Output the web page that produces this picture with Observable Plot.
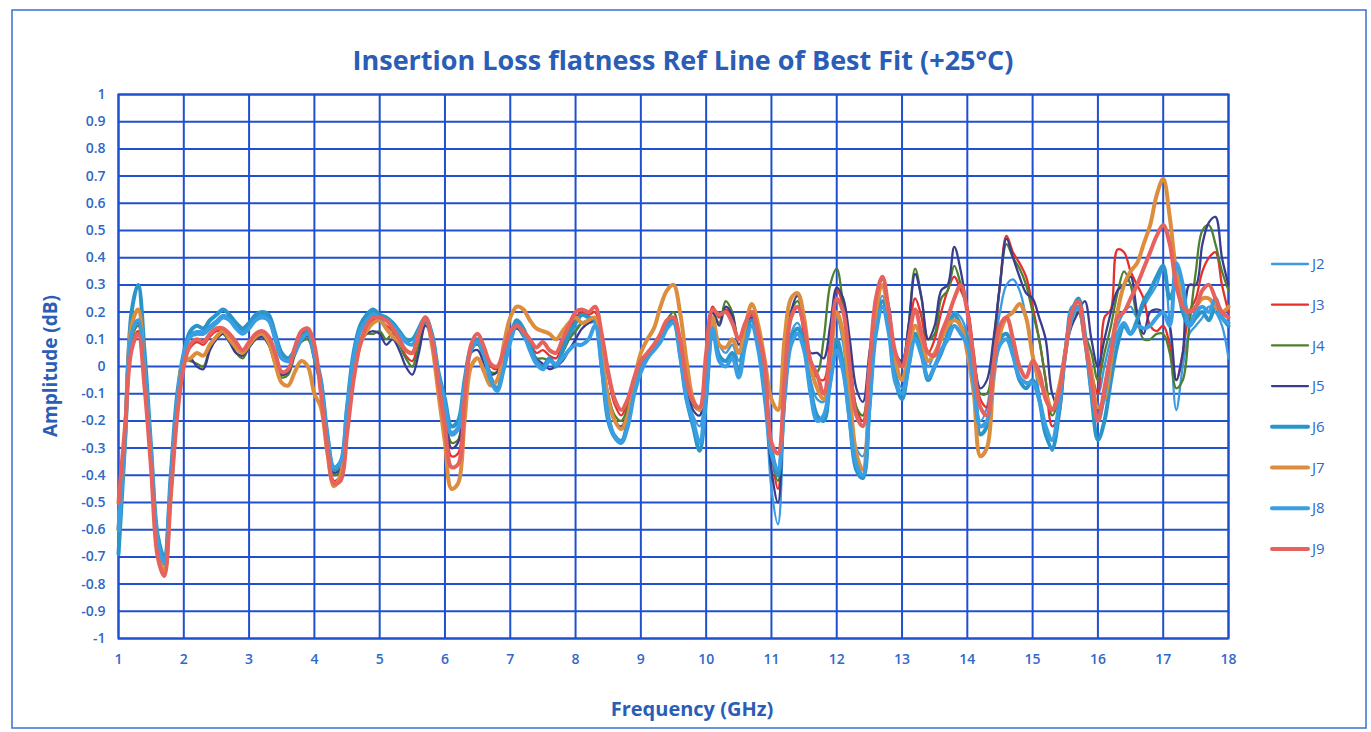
<!DOCTYPE html>
<html><head><meta charset="utf-8">
<script src="https://cdn.jsdelivr.net/npm/d3@7"></script>
<script src="https://cdn.jsdelivr.net/npm/@observablehq/plot@0.6"></script>
<style>body{margin:0;background:#fff;}#chart{width:1371px;height:732px;}</style>
</head><body><div id="chart"></div>
<script>
const freq = [
1.0,1.1,1.2,1.3,1.4,1.5,1.6,1.7,1.8,1.9,
2.0,2.1,2.2,2.3,2.4,2.5,2.6,2.7,2.8,2.9,
3.0,3.1,3.2,3.3,3.4,3.5,3.6,3.7,3.8,3.9,
4.0,4.1,4.2,4.3,4.4,4.5,4.6,4.7,4.8,4.9,
5.0,5.1,5.2,5.3,5.4,5.5,5.6,5.7,5.8,5.9,
6.0,6.1,6.2,6.3,6.4,6.5,6.6,6.7,6.8,6.9,
7.0,7.1,7.2,7.3,7.4,7.5,7.6,7.7,7.8,7.9,
8.0,8.1,8.2,8.3,8.4,8.5,8.6,8.7,8.8,8.9,
9.0,9.1,9.2,9.3,9.4,9.5,9.6,9.7,9.8,9.9,
10.0,10.1,10.2,10.3,10.4,10.5,10.6,10.7,10.8,10.9,
11.0,11.1,11.2,11.3,11.4,11.5,11.6,11.7,11.8,11.9,
12.0,12.1,12.2,12.3,12.4,12.5,12.6,12.7,12.8,12.9,
13.0,13.1,13.2,13.3,13.4,13.5,13.6,13.7,13.8,13.9,
14.0,14.1,14.2,14.3,14.4,14.5,14.6,14.7,14.8,14.9,
15.0,15.1,15.2,15.3,15.4,15.5,15.6,15.7,15.8,15.9,
16.0,16.1,16.2,16.3,16.4,16.5,16.6,16.7,16.8,16.9,
17.0,17.1,17.2,17.3,17.4,17.5,17.6,17.7,17.8,17.9,
18.0];

const J2 = [
-0.62,-0.27,0.12,0.16,-0.03,-0.34,-0.65,-0.73,-0.44,-0.13,
0.04,0.12,0.13,0.13,0.15,0.17,0.19,0.18,0.15,0.13,
0.15,0.18,0.19,0.18,0.11,0.04,0.02,0.06,0.10,0.12,
0.04,-0.06,-0.27,-0.38,-0.35,-0.16,0.04,0.14,0.18,0.20,
0.19,0.17,0.15,0.12,0.09,0.08,0.13,0.17,0.11,-0.03,
-0.14,-0.24,-0.22,-0.06,0.06,0.09,0.04,-0.05,-0.08,0.00,
0.10,0.16,0.13,0.07,0.02,0.00,0.02,0.01,0.05,0.10,
0.14,0.16,0.16,0.16,0.00,-0.18,-0.25,-0.27,-0.20,-0.08,
0.00,0.04,0.07,0.10,0.15,0.17,0.05,-0.10,-0.18,-0.22,
-0.05,0.18,0.08,0.05,0.08,0.02,0.12,0.18,0.08,-0.10,
-0.45,-0.58,-0.15,0.12,0.16,0.10,-0.05,-0.12,-0.13,0.05,
0.18,0.08,-0.15,-0.30,-0.33,-0.10,0.18,0.26,0.15,-0.02,
-0.08,0.05,0.15,0.08,0.00,0.05,0.10,0.15,0.20,0.18,
0.12,-0.02,-0.20,-0.15,0.05,0.20,0.30,0.32,0.28,0.18,
0.05,-0.10,-0.25,-0.31,-0.18,0.05,0.22,0.22,0.10,-0.05,
-0.10,0.00,0.10,0.15,0.20,0.22,0.18,0.22,0.26,0.30,
0.36,0.15,-0.16,0.00,0.12,0.15,0.18,0.22,0.20,0.15,
0.03];

const J3 = [
-0.52,-0.23,0.07,0.13,-0.06,-0.37,-0.69,-0.77,-0.47,-0.17,
0.01,0.07,0.09,0.08,0.11,0.13,0.13,0.11,0.08,0.05,
0.08,0.11,0.12,0.10,0.04,-0.03,-0.02,0.06,0.12,0.13,
0.07,-0.10,-0.30,-0.42,-0.40,-0.22,-0.03,0.08,0.14,0.17,
0.17,0.15,0.13,0.09,0.04,0.02,0.10,0.17,0.09,-0.06,
-0.20,-0.33,-0.32,-0.10,0.07,0.10,0.05,0.00,-0.01,0.05,
0.12,0.14,0.12,0.09,0.05,0.06,0.04,0.03,0.08,0.13,
0.18,0.20,0.19,0.20,0.10,-0.04,-0.14,-0.18,-0.13,-0.05,
0.02,0.05,0.08,0.12,0.16,0.17,0.08,-0.06,-0.14,-0.16,
0.04,0.22,0.18,0.21,0.18,0.10,0.15,0.19,0.10,-0.02,
-0.30,-0.45,-0.08,0.18,0.22,0.12,0.00,-0.04,-0.05,0.10,
0.28,0.22,0.02,-0.15,-0.20,0.00,0.24,0.32,0.20,0.05,
0.02,0.12,0.25,0.18,0.05,0.10,0.20,0.28,0.33,0.28,
0.22,0.05,-0.12,-0.15,0.05,0.30,0.48,0.42,0.38,0.33,
0.22,0.10,-0.05,-0.22,-0.18,0.05,0.18,0.20,0.10,-0.02,
-0.10,0.18,0.21,0.43,0.42,0.35,0.30,0.25,0.15,0.13,
0.15,0.08,-0.05,0.05,0.20,0.25,0.35,0.40,0.42,0.30,
0.20];

const J4 = [
-0.60,-0.26,0.10,0.15,-0.04,-0.35,-0.67,-0.75,-0.45,-0.15,
0.02,0.02,0.01,0.00,0.07,0.10,0.12,0.09,0.05,0.03,
0.07,0.10,0.11,0.08,0.01,-0.04,-0.03,0.04,0.09,0.10,
0.02,-0.08,-0.28,-0.40,-0.38,-0.18,0.00,0.10,0.12,0.12,
0.13,0.10,0.12,0.08,0.03,0.00,0.08,0.16,0.10,-0.05,
-0.17,-0.28,-0.27,-0.07,0.06,0.08,0.03,-0.02,-0.02,0.05,
0.12,0.14,0.11,0.07,0.03,0.03,0.02,0.01,0.05,0.10,
0.13,0.16,0.17,0.18,0.05,-0.10,-0.18,-0.20,-0.15,-0.05,
0.02,0.05,0.08,0.12,0.17,0.20,0.10,-0.05,-0.14,-0.16,
0.02,0.20,0.16,0.24,0.20,0.10,0.14,0.18,0.10,-0.05,
-0.32,-0.42,-0.08,0.20,0.24,0.15,0.00,-0.02,0.10,0.30,
0.36,0.22,0.05,-0.15,-0.18,0.00,0.22,0.30,0.20,0.05,
0.00,0.15,0.36,0.25,0.10,0.12,0.25,0.28,0.37,0.30,
0.20,0.02,-0.10,-0.10,0.08,0.30,0.45,0.40,0.36,0.30,
0.20,0.10,-0.05,-0.18,-0.12,0.05,0.18,0.20,0.12,0.05,
-0.05,0.05,0.15,0.27,0.35,0.30,0.18,0.10,0.10,0.12,
0.12,0.05,-0.08,-0.05,0.15,0.35,0.50,0.52,0.45,0.35,
0.28];

const J5 = [
-0.66,-0.27,0.13,0.16,-0.04,-0.35,-0.67,-0.75,-0.45,-0.14,
0.02,0.03,0.00,-0.01,0.06,0.10,0.12,0.09,0.05,0.04,
0.07,0.10,0.11,0.08,0.01,-0.03,-0.02,0.05,0.10,0.11,
0.03,-0.07,-0.27,-0.39,-0.37,-0.17,0.00,0.09,0.12,0.13,
0.12,0.08,0.10,0.06,0.00,-0.03,0.05,0.15,0.10,-0.05,
-0.18,-0.30,-0.28,-0.08,0.05,0.06,0.01,-0.03,-0.02,0.05,
0.12,0.14,0.12,0.08,0.03,0.01,-0.01,0.00,0.02,0.06,
0.10,0.14,0.16,0.17,0.03,-0.12,-0.20,-0.22,-0.17,-0.06,
0.01,0.04,0.07,0.11,0.16,0.18,0.08,-0.07,-0.16,-0.18,
0.00,0.20,0.15,0.22,0.19,0.08,0.13,0.18,0.08,-0.10,
-0.38,-0.50,-0.10,0.20,0.26,0.18,0.05,0.05,0.03,0.15,
0.29,0.25,0.10,-0.08,-0.13,0.05,0.22,0.30,0.22,0.05,
0.02,0.15,0.34,0.25,0.10,0.15,0.28,0.30,0.44,0.35,
0.20,0.03,-0.08,-0.05,0.10,0.30,0.47,0.40,0.33,0.27,
0.25,0.18,0.10,-0.10,-0.15,0.05,0.15,0.20,0.24,0.10,
0.00,0.10,0.20,0.28,0.30,0.33,0.20,0.12,0.20,0.21,
0.20,0.15,-0.05,0.05,0.30,0.30,0.45,0.53,0.55,0.40,
0.30];

const J6 = [
-0.69,-0.28,0.20,0.30,0.05,-0.30,-0.62,-0.70,-0.40,-0.10,
0.05,0.13,0.15,0.14,0.17,0.19,0.21,0.19,0.16,0.14,
0.16,0.19,0.20,0.19,0.12,0.05,0.03,0.06,0.10,0.13,
0.05,-0.05,-0.25,-0.38,-0.36,-0.15,0.05,0.15,0.19,0.21,
0.19,0.18,0.16,0.13,0.10,0.10,0.14,0.18,0.12,-0.02,
-0.12,-0.22,-0.20,-0.05,0.07,0.10,0.05,-0.04,-0.08,0.00,
0.10,0.17,0.14,0.08,0.02,0.00,0.03,0.00,0.06,0.12,
0.16,0.19,0.18,0.17,0.00,-0.20,-0.26,-0.28,-0.20,-0.08,
0.00,0.04,0.07,0.10,0.15,0.17,0.05,-0.12,-0.22,-0.31,
-0.12,0.16,0.04,0.02,0.05,-0.02,0.10,0.17,0.08,-0.10,
-0.30,-0.40,-0.10,0.10,0.14,0.08,-0.08,-0.18,-0.20,-0.05,
0.10,0.00,-0.20,-0.38,-0.41,-0.15,0.15,0.24,0.15,-0.05,
-0.12,0.00,0.12,0.05,-0.05,0.00,0.05,0.12,0.19,0.15,
0.10,-0.05,-0.25,-0.22,0.00,0.10,0.12,0.05,-0.05,-0.08,
-0.05,-0.12,-0.25,-0.30,-0.18,0.05,0.20,0.25,0.12,-0.10,
-0.27,-0.20,-0.05,0.08,0.15,0.12,0.17,0.24,0.28,0.33,
0.37,0.25,0.30,0.20,0.15,0.18,0.20,0.17,0.22,0.18,
0.15];

const J7 = [
-0.60,-0.25,0.15,0.21,-0.02,-0.34,-0.66,-0.76,-0.46,-0.15,
0.02,0.03,0.05,0.04,0.08,0.11,0.13,0.10,0.07,0.05,
0.08,0.11,0.12,0.09,0.01,-0.06,-0.07,-0.02,0.02,0.00,
-0.10,-0.15,-0.32,-0.44,-0.40,-0.22,-0.03,0.08,0.13,0.16,
0.17,0.14,0.11,0.09,0.06,0.05,0.12,0.18,0.08,-0.10,
-0.28,-0.45,-0.43,-0.20,0.00,0.03,-0.02,-0.07,-0.05,0.08,
0.18,0.22,0.21,0.17,0.14,0.13,0.12,0.10,0.13,0.16,
0.18,0.16,0.17,0.18,0.05,-0.12,-0.20,-0.23,-0.18,-0.05,
0.05,0.10,0.14,0.22,0.28,0.30,0.20,0.02,-0.12,-0.16,
0.00,0.18,0.08,0.07,0.10,0.05,0.15,0.23,0.15,0.02,
-0.12,-0.16,0.10,0.25,0.27,0.18,0.00,-0.08,-0.12,0.02,
0.20,0.12,-0.10,-0.32,-0.38,-0.10,0.20,0.30,0.18,0.02,
-0.05,0.05,0.15,0.10,0.02,0.05,0.10,0.15,0.17,0.15,
0.05,-0.10,-0.33,-0.30,-0.05,0.12,0.18,0.20,0.23,0.18,
0.04,-0.05,-0.10,-0.16,-0.08,0.05,0.18,0.22,0.10,-0.02,
-0.15,-0.12,0.02,0.20,0.30,0.35,0.38,0.45,0.52,0.63,
0.69,0.55,0.35,0.25,0.20,0.22,0.25,0.25,0.22,0.20,
0.22];

const J8 = [
-0.60,-0.26,0.12,0.17,-0.02,-0.33,-0.64,-0.72,-0.43,-0.13,
0.04,0.11,0.12,0.12,0.14,0.16,0.18,0.17,0.14,0.12,
0.14,0.17,0.18,0.17,0.10,0.03,0.02,0.05,0.10,0.12,
0.04,-0.06,-0.26,-0.37,-0.35,-0.16,0.03,0.13,0.17,0.19,
0.18,0.17,0.15,0.12,0.09,0.08,0.13,0.17,0.11,-0.03,
-0.14,-0.25,-0.23,-0.07,0.06,0.09,0.04,-0.05,-0.09,-0.01,
0.09,0.15,0.12,0.06,0.01,-0.01,0.02,0.01,0.03,0.06,
0.08,0.08,0.10,0.15,0.00,-0.18,-0.26,-0.28,-0.22,-0.10,
-0.02,0.03,0.06,0.09,0.14,0.16,0.04,-0.12,-0.20,-0.28,
-0.10,0.14,0.02,0.00,0.03,-0.04,0.08,0.15,0.06,-0.12,
-0.32,-0.38,-0.12,0.08,0.12,0.06,-0.10,-0.20,-0.18,-0.06,
0.06,-0.02,-0.20,-0.36,-0.40,-0.15,0.12,0.22,0.12,-0.06,
-0.10,0.00,0.10,0.04,-0.04,0.00,0.06,0.10,0.15,0.12,
0.08,-0.06,-0.22,-0.20,-0.02,0.08,0.10,0.04,-0.04,-0.06,
-0.06,-0.12,-0.22,-0.27,-0.15,0.05,0.18,0.22,0.10,-0.08,
-0.20,-0.10,0.05,0.12,0.16,0.12,0.15,0.14,0.15,0.18,
0.20,0.15,0.38,0.30,0.15,0.20,0.22,0.20,0.25,0.18,
0.16];

const J9 = [
-0.50,-0.22,0.06,0.12,-0.08,-0.38,-0.70,-0.77,-0.48,-0.18,
0.00,0.08,0.10,0.09,0.12,0.14,0.14,0.12,0.09,0.06,
0.09,0.12,0.13,0.11,0.05,-0.02,-0.01,0.07,0.13,0.14,
0.08,-0.10,-0.30,-0.43,-0.42,-0.25,-0.05,0.08,0.15,0.18,
0.18,0.17,0.14,0.10,0.06,0.05,0.12,0.18,0.10,-0.06,
-0.22,-0.37,-0.36,-0.12,0.08,0.12,0.07,0.01,0.00,0.06,
0.13,0.15,0.13,0.10,0.07,0.09,0.06,0.05,0.10,0.15,
0.20,0.21,0.20,0.22,0.12,-0.02,-0.12,-0.16,-0.12,-0.04,
0.02,0.05,0.08,0.12,0.17,0.18,0.10,-0.05,-0.13,-0.15,
0.05,0.21,0.19,0.20,0.16,0.10,0.16,0.20,0.12,0.00,
-0.28,-0.32,-0.05,0.18,0.22,0.15,0.02,-0.03,-0.10,0.05,
0.25,0.20,0.00,-0.18,-0.22,0.00,0.25,0.33,0.20,0.05,
0.00,0.10,0.21,0.12,0.05,0.04,0.12,0.18,0.25,0.30,
0.20,0.02,-0.15,-0.18,0.00,0.15,0.18,0.10,0.00,-0.04,
0.02,-0.02,-0.12,-0.16,-0.10,0.05,0.20,0.24,0.10,-0.05,
-0.20,-0.08,0.05,0.18,0.20,0.25,0.30,0.36,0.42,0.48,
0.52,0.45,0.30,0.22,0.20,0.22,0.28,0.30,0.25,0.20,
0.18];

const seriesNames = ["J2","J3","J4","J5","J6","J7","J8","J9"];
const seriesValues = [J2,J3,J4,J5,J6,J7,J8,J9];
const xTicks = [1,2,3,4,5,6,7,8,9,10,11,12,13,14,15,16,17,18];
const yTicks = [1,0.9,0.8,0.7,0.6,0.5,0.4,0.3,0.2,0.1,0,-0.1,-0.2,-0.3,-0.4,-0.5,-0.6,-0.7,-0.8,-0.9,-1];
const titleText = "Insertion Loss flatness Ref Line of Best Fit (+25°C)";
const xLabel = "Frequency (GHz)";
const yLabel = "Amplitude (dB)";

// styles
const colors = {J2:"#3b9ae0",J3:"#e5302c",J4:"#4f8030",J5:"#3a3c8e",J6:"#2a95c9",J7:"#dc8d3e",J8:"#3a9fe2",J9:"#e6625c"};
const widths = {J2:2.3,J3:2.3,J4:2.3,J5:2.3,J6:4,J7:4,J8:4,J9:4};
const gridColor = "#1f50cf";
const textColor = "#2f68cc";
const font = "'Open Sans', sans-serif";

const rows = seriesNames.flatMap((s,k)=>freq.map((f,i)=>({series:s,f,v:seriesValues[k][i]})));

const W = 1371, H = 732;
const chart = Plot.plot({
  width: W, height: H,
  marginLeft: 118, marginRight: 143, marginTop: 94, marginBottom: 94,
  style: {fontFamily: font, background: "white"},
  x: {domain: [1,18]},
  y: {domain: [-1,1]},
  marks: [
    Plot.gridX(xTicks, {stroke: gridColor, strokeOpacity: 1, strokeWidth: 2}),
    Plot.gridY(yTicks, {stroke: gridColor, strokeOpacity: 1, strokeWidth: 2}),
    Plot.frame({stroke: gridColor, strokeWidth: 2}),
    Plot.axisX(xTicks, {anchor: "bottom", tickSize: 0, tickPadding: 16, fontSize: 14, fontWeight: 600, fill: textColor, label: null, tickFormat: d => String(d)}),
    Plot.axisY(yTicks, {anchor: "left", tickSize: 0, tickPadding: 13, fontSize: 14, fontWeight: 600, fill: textColor, label: null, tickFormat: d => String(+d.toFixed(1))}),
    ...seriesNames.map(s => Plot.line(rows.filter(r => r.series === s), {
      x: "f", y: "v", stroke: colors[s], strokeWidth: widths[s], curve: "catmull-rom"
    }))
  ]
});

const svg = d3.select(chart);
svg.append("rect").attr("x",12).attr("y",10).attr("width",1354).attr("height",718)
  .attr("fill","none").attr("stroke","#3b6fd2").attr("stroke-width",1.5);
svg.append("text").attr("x",683).attr("y",70).attr("text-anchor","middle")
  .attr("font-family",font).attr("font-weight",700).attr("font-size",27).attr("fill","#2a5db5").text(titleText);
svg.append("text").attr("x",692).attr("y",716).attr("text-anchor","middle")
  .attr("font-family",font).attr("font-weight",700).attr("font-size",20).attr("fill","#2a5db5").text(xLabel);
svg.append("text").attr("transform","translate(57,366) rotate(-90)").attr("text-anchor","middle")
  .attr("font-family",font).attr("font-weight",700).attr("font-size",19).attr("fill","#2a5db5").text(yLabel);
const leg = svg.append("g");
seriesNames.forEach((s,k) => {
  const y = 264 + k*40.7;
  leg.append("line").attr("x1",1272).attr("x2",1308).attr("y1",y).attr("y2",y)
    .attr("stroke",colors[s]).attr("stroke-width",widths[s]).attr("stroke-linecap","round");
  leg.append("text").attr("x",1312).attr("y",y).attr("dy","0.35em").attr("text-anchor","start")
    .attr("font-family",font).attr("font-size",15).attr("fill",textColor).text(s);
});
document.getElementById("chart").appendChild(chart);
</script></body></html>
